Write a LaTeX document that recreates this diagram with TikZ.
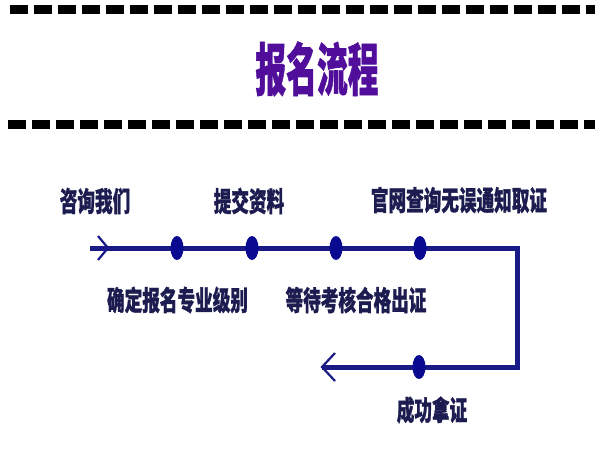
\documentclass[tikz,border=0pt]{standalone}
\usepackage{fontspec}
\newfontfamily\cjk{Noto Sans CJK SC}[BoldFeatures={FakeBold=1.2}]
\usetikzlibrary{shapes.geometric}
\definecolor{linecol}{RGB}{26,26,135}
\definecolor{dotcol}{RGB}{10,10,145}
\definecolor{labcol}{RGB}{28,28,80}
\definecolor{titlecol}{RGB}{80,14,155}
\tikzset{
  dashrule/.style={line width=9pt, dash pattern=on 18pt off 6pt, black},
  flow/.style={line width=5pt, linecol},
  chev/.style={line width=2.2pt, linecol, line join=miter},
  dot/.style={ellipse, fill=dotcol, minimum width=13pt, minimum height=24pt, inner sep=0pt},
  lab/.style={text=labcol, font=\cjk\bfseries\fontsize{27.5}{30}\selectfont, xscale=0.64, inner sep=0pt, anchor=center},
  ttl/.style={text=titlecol, font=\cjk\bfseries\fontsize{57}{60}\selectfont, xscale=0.54, inner sep=0pt, anchor=center}
}
\begin{document}
\begin{tikzpicture}[x=1pt,y=-1pt]
\useasboundingbox (0,0) rectangle (595,453);
\fill[white] (0,0) rectangle (595,453);
% dashed rules
\coordinate (r1a) at (10,9.5);
\coordinate (r1b) at (600,9.5);
\coordinate (r2a) at (8,124.5);
\coordinate (r2b) at (600,124.5);
\draw[dashrule] (r1a) -- (r1b);
\draw[dashrule] (r2a) -- (r2b);
% title
\node[ttl] (title) at (317,69) {报名流程};
% flow line
\coordinate (s) at (90,248);
\coordinate (c1) at (517,248);
\coordinate (c2) at (517,367);
\coordinate (e) at (322,367);
\draw[flow, line join=miter] (s) -- (c1) -- (c2) -- (e);
% chevrons
\coordinate (sa) at (98,236);
\coordinate (st) at (108,248);
\coordinate (sb) at (98,260);
\draw[chev] (sa) -- (st) -- (sb);
\coordinate (ea) at (335,353);
\coordinate (eb) at (335,381);
\draw[chev] (ea) -- (e) -- (eb);
% dots
\node[dot] (d1) at (177,248) {};
\node[dot] (d2) at (252,248) {};
\node[dot] (d3) at (336,248) {};
\node[dot] (d4) at (420,248) {};
\node[dot] (d5) at (419,367) {};
% labels
\node[lab] (l1) at (95,201) {咨询我们};
\node[lab] (l2) at (249,201) {提交资料};
\node[lab] (l3) at (459,200) {官网查询无误通知取证};
\node[lab] (l4) at (177.5,300) {确定报名专业级别};
\node[lab] (l5) at (356,300) {等待考核合格出证};
\node[lab] (l6) at (432,410) {成功拿证};
\end{tikzpicture}
\end{document}
